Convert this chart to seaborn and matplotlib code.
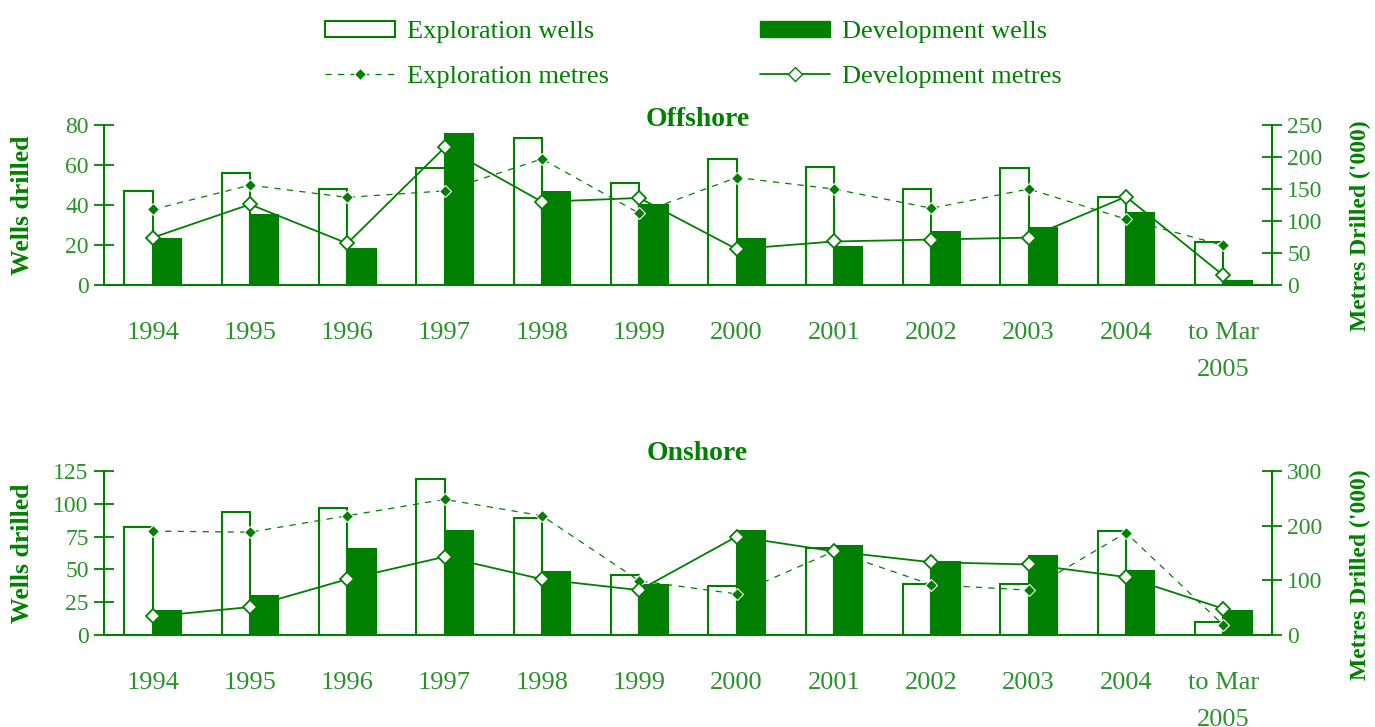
import numpy as np
import pandas as pd
import seaborn as sns
import matplotlib.pyplot as plt
from matplotlib.patches import Patch
from matplotlib.lines import Line2D

GREEN = "#008000"
LIGHT = "#2a922a"

years = ["1994", "1995", "1996", "1997", "1998", "1999", "2000",
         "2001", "2002", "2003", "2004", "to Mar\n2005"]

# offshore
off_expl_wells = [47, 56, 48, 58.5, 73.5, 51, 63, 59, 48, 58.5, 44, 21.5]
off_dev_wells = [23, 35, 18, 75.5, 46.5, 40, 23, 19, 26.5, 28.5, 36, 2]
off_expl_metres = [118, 156, 137, 147, 197, 112, 168, 150, 120, 150, 103, 62]
off_dev_metres = [74, 126, 65, 215, 130, 136, 56, 68, 71, 74, 138, 15]

# onshore
on_expl_wells = [82, 94, 96.5, 119, 89, 45.5, 37, 66, 39, 38.5, 79.5, 10]
on_dev_wells = [18, 30, 65.5, 79.5, 48, 38, 79.5, 68, 55.5, 60, 48.5, 18.5]
on_expl_metres = [190, 188, 218, 248, 218, 99, 75, 153, 92, 82, 187, 18]
on_dev_metres = [34, 51, 102, 143, 102, 82, 180, 153, 133, 129, 106, 48]


def draw_panel(ax, title, expl_w, dev_w, expl_m, dev_m, wlim, wticks, mlim, mticks,
               title_y):
    df = pd.DataFrame({
        "year": years * 2,
        "kind": ["Exploration wells"] * 12 + ["Development wells"] * 12,
        "wells": list(expl_w) + list(dev_w),
    })
    sns.barplot(data=df, x="year", y="wells", hue="kind", order=years,
                hue_order=["Exploration wells", "Development wells"],
                palette=["white", GREEN], saturation=1, edgecolor=GREEN,
                linewidth=1.5, width=0.58, legend=False, ax=ax, zorder=2)

    ax2 = ax.twinx()
    x = np.arange(len(years))
    sns.lineplot(x=x, y=expl_m, ax=ax2, color=GREEN, linewidth=0.9,
                 linestyle=(0, (5, 5)), marker="D", markersize=6,
                 markerfacecolor=GREEN, markeredgecolor="white",
                 markeredgewidth=0.8)
    sns.lineplot(x=x, y=dev_m, ax=ax2, color=GREEN, linewidth=1.3,
                 marker="D", markersize=7.5, markerfacecolor="white",
                 markeredgecolor=GREEN, markeredgewidth=1.3)

    ax.set_xlim(-0.5, len(years) - 0.5)
    ax.set_ylim(*wlim)
    ax.set_yticks(wticks)
    ax2.set_ylim(*mlim)
    ax2.set_yticks(mticks)

    ax.set_xticks(np.arange(-0.5, len(years)), labels=[])
    ax.set_xticks(x, labels=years, minor=True)
    ax.tick_params(axis="x", which="major", direction="inout", length=20,
                   width=1.3, color=GREEN)
    ax.tick_params(axis="x", which="minor", length=0, pad=27, labelsize=19,
                   labelcolor=LIGHT)
    for lab in ax.get_xticklabels(minor=True):
        lab.set_linespacing(1.85)
        lab.set_verticalalignment("top")
    ax.tick_params(axis="y", direction="inout", length=14, width=1.3,
                   color=GREEN, labelsize=17, labelcolor=LIGHT, pad=4)
    ax2.tick_params(axis="y", direction="inout", length=14, width=1.3,
                    color=GREEN, labelsize=17, labelcolor=LIGHT, pad=4)

    for s in ["top", "right"]:
        ax.spines[s].set_visible(False)
    for s in ["top", "left", "bottom"]:
        ax2.spines[s].set_visible(False)
    for s in ["left", "bottom"]:
        ax.spines[s].set_color(GREEN)
        ax.spines[s].set_linewidth(1.5)
    ax2.spines["right"].set_color(GREEN)
    ax2.spines["right"].set_linewidth(1.5)

    ax.set_xlabel("")
    ax.set_ylabel("Wells drilled", fontsize=18.5, fontweight="bold", color=GREEN)
    ax.yaxis.set_label_coords(-0.06, 0.5)
    ax2.set_ylabel("Metres Drilled ('000)", fontsize=17, fontweight="bold",
                   color=GREEN)
    ax2.yaxis.set_label_coords(1.067, 0.37)
    ax.set_title(title, fontsize=20, fontweight="bold", color=GREEN,
                 pad=0, x=0.508, y=title_y)
    return ax2


sns.set_style("white")
plt.rcParams["font.family"] = ["Liberation Serif", "DejaVu Serif"]

fig = plt.figure(figsize=(13.75, 7.27), dpi=100)
ax_top = fig.add_axes([0.0756, 0.608, 0.8495, 0.220])
ax_bot = fig.add_axes([0.0756, 0.1266, 0.8495, 0.2256])

draw_panel(ax_top, "Offshore", off_expl_wells, off_dev_wells, off_expl_metres,
           off_dev_metres, (0, 80), [0, 20, 40, 60, 80], (0, 250),
           [0, 50, 100, 150, 200, 250], 0.995)
draw_panel(ax_bot, "Onshore", on_expl_wells, on_dev_wells, on_expl_metres,
           on_dev_metres, (0, 125), [0, 25, 50, 75, 100, 125], (0, 300),
           [0, 100, 200, 300], 1.065)

handles = [
    Patch(facecolor="white", edgecolor=GREEN, linewidth=1.5),
    Line2D([], [], color=GREEN, linewidth=0.9, linestyle=(0, (5, 5)),
           marker="D", markersize=6, markerfacecolor=GREEN,
           markeredgecolor="white", markeredgewidth=0.8),
    Patch(facecolor=GREEN, edgecolor=GREEN),
    Line2D([], [], color=GREEN, linewidth=1.3, marker="D", markersize=7.5,
           markerfacecolor="white", markeredgecolor=GREEN),
]
labels = ["Exploration wells", "Exploration metres", "Development wells",
          "Development metres"]
leg = fig.legend(handles, labels, ncol=2, loc="upper left",
                 bbox_to_anchor=(0.219, 1.004), frameon=False, fontsize=19,
                 handlelength=2.65, handleheight=0.55, handletextpad=0.45,
                 columnspacing=5.75, labelspacing=0.85)
for t in leg.get_texts():
    t.set_color(GREEN)

fig.savefig("out.png", dpi=100)
